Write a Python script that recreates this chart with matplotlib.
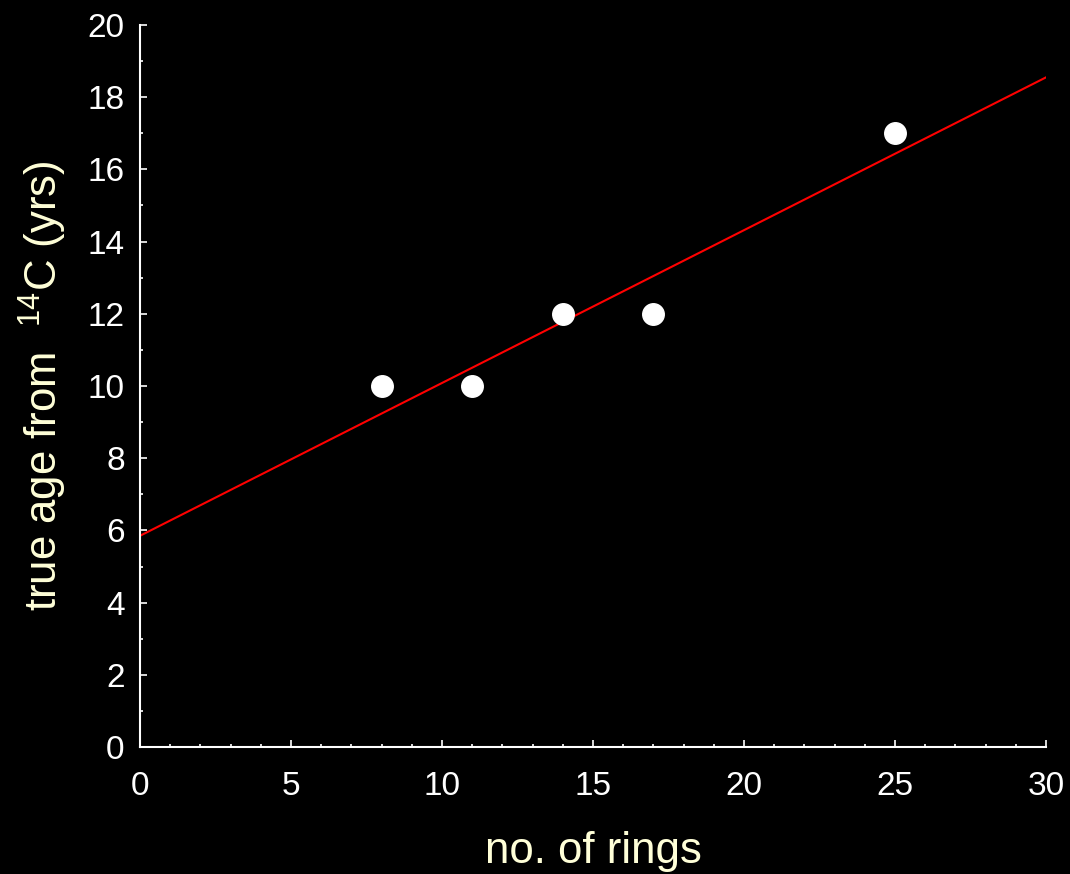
import matplotlib.pyplot as plt
from matplotlib.ticker import MultipleLocator

plt.rcParams['font.family'] = ['Liberation Sans', 'DejaVu Sans']
plt.rcParams['mathtext.fontset'] = 'custom'
plt.rcParams['mathtext.rm'] = 'Liberation Sans'

# data
rings = [8, 11, 14, 17, 25]
true_age = [10, 10, 12, 12, 17]

# fitted line end points
fit_x = [0, 30]
fit_y = [5.85, 18.55]

label_col = '#FFFFD8'

fig = plt.figure(figsize=(10.7, 8.74), dpi=100, facecolor='black')
ax = fig.add_axes([0.1308, 0.1453, 0.8468, 0.8261], facecolor='black')

ax.plot(fit_x, fit_y, color='#FF0000', lw=1.5, zorder=2)
ax.plot(rings, true_age, 'o', color='white', markersize=15.5, zorder=3)

ax.set_xlim(0, 30)
ax.set_ylim(0, 20)
ax.xaxis.set_major_locator(MultipleLocator(5))
ax.xaxis.set_minor_locator(MultipleLocator(1))
ax.yaxis.set_major_locator(MultipleLocator(2))
ax.yaxis.set_minor_locator(MultipleLocator(1))

for s in ['top', 'right']:
    ax.spines[s].set_visible(False)
for s in ['left', 'bottom']:
    ax.spines[s].set_color('white')
    ax.spines[s].set_linewidth(1.5)

ax.tick_params(which='both', direction='in', colors='white', width=1.2)
ax.tick_params(which='major', length=5, labelsize=24)
ax.tick_params(which='minor', length=2.5)
ax.tick_params(axis='x', which='major', pad=17)
ax.tick_params(axis='y', which='major', pad=11)

ax.set_xlabel('no. of rings', fontsize=31.5, color=label_col, labelpad=21)
ax.set_ylabel(r'true age from  $\mathregular{^{14}}$C (yrs)', fontsize=31.5,
              color=label_col, labelpad=13)

plt.savefig('out.png', dpi=100, facecolor='black')
plt.close()
